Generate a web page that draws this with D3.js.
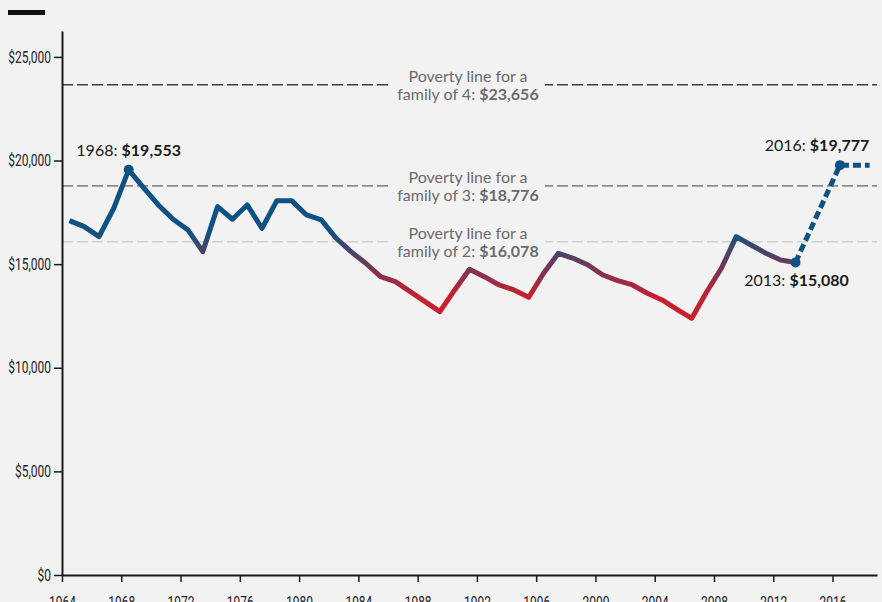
<!DOCTYPE html>
<html>
<head>
<meta charset="utf-8">
<script src="https://cdn.jsdelivr.net/npm/d3@7"></script>
<style>
  body { margin: 0; background: #f2f2f2; }
  svg { display: block; }
</style>
</head>
<body>
<svg></svg>
<script>
let width = 882
let height = 602

// real annual minimum wage earnings (2016 dollars)
let years = d3.range(1964, 2014)
let wages = [17100, 16810, 16330, 17710, 19553, 18690, 17856, 17166, 16650, 15600,
  17775, 17166, 17856, 16730, 18064, 18064, 17373, 17133, 16250, 15603,
  15043, 14396, 14155, 13673, 13190, 12707, 13754, 14752, 14396, 13995,
  13754, 13400, 14560, 15525, 15284, 14960, 14478, 14204, 13995, 13593,
  13271, 12822, 12388, 13657, 14800, 16327, 15926, 15525, 15203, 15080]

let projYears = [2013, 2016, 2018]
let projWages = [15080, 19777, 19777]

let markYears = [1968, 2013, 2016]
let markWages = [19553, 15080, 19777]

let povertyFamily = ['family of 4', 'family of 3', 'family of 2']
let povertyValues = [23656, 18776, 16078]

let yTicks = [0, 5000, 10000, 15000, 20000, 25000]
let xTicks = d3.range(1964, 2017, 4)

let blue = '#0e5283'
let red = '#c8202f'
let povertyColors = ['#3f3f3f', '#8c8c8c', '#d0d0d0']

let x = d3.scaleLinear().domain([1964, 2019]).range([62, 877])
let y = d3.scaleLinear().domain([0, 26250]).range([575, 31])

let fmt = d3.format(',')
let squeeze = 0.75

let svg = d3.select('svg')
    .attr('width', width)
    .attr('height', height)
    .style('font-family', 'Lato, sans-serif')

svg.append('rect')
    .attr('width', width)
    .attr('height', height)
    .attr('fill', '#f2f2f2')

// little black bar top left
svg.append('rect')
    .attr('x', 8)
    .attr('y', 10)
    .attr('width', 37)
    .attr('height', 5)
    .attr('fill', '#111')

let grad = svg.append('defs')
  .append('linearGradient')
    .attr('id', 'wageGrad')
    .attr('gradientUnits', 'userSpaceOnUse')
    .attr('x1', 0).attr('x2', 0)
    .attr('y1', y(16600))
    .attr('y2', y(13400))

grad.append('stop').attr('offset', 0).attr('stop-color', blue)
grad.append('stop').attr('offset', 1).attr('stop-color', red)

// poverty lines
let pov = svg.selectAll('.pov')
  .data(povertyValues)
  .enter()
  .append('g')
    .classed('pov', true)

pov.append('line')
    .attr('x1', x(1964))
    .attr('x2', x(2019))
    .attr('y1', d => y(d))
    .attr('y2', d => y(d))
    .attr('stroke', (d, i) => povertyColors[i])
    .attr('stroke-width', 1.6)
    .attr('stroke-dasharray', '11,4')

pov.append('rect')
    .attr('x', 392)
    .attr('width', 153)
    .attr('y', d => y(d) - 17)
    .attr('height', 36)
    .attr('fill', '#f2f2f2')

let povText = pov.append('text')
    .attr('text-anchor', 'middle')
    .attr('fill', '#6b6b6b')
    .style('font-size', '16px')

povText.append('tspan')
    .attr('x', 468)
    .attr('y', d => y(d) - 3)
    .text('Poverty line for a')

povText.append('tspan')
    .attr('x', 468)
    .attr('y', d => y(d) + 15)
    .text((d, i) => povertyFamily[i] + ': ')
  .append('tspan')
    .style('font-weight', 'bold')
    .text(d => '$' + fmt(d))

// axes
let yAxis = svg.append('g')
    .attr('transform', `translate(${x(1964)},0)`)
    .call(d3.axisLeft(y).tickValues(yTicks).tickFormat(d => '$' + fmt(d)).tickSize(8).tickSizeOuter(0).tickPadding(3))

let xAxis = svg.append('g')
    .attr('transform', `translate(0,${y(0)})`)
    .call(d3.axisBottom(x).tickValues(xTicks).tickFormat(d => d).tickSize(7).tickSizeOuter(0))

svg.selectAll('.domain')
    .attr('stroke', '#1a1a1a')
    .attr('stroke-width', 2)

svg.selectAll('.tick line')
    .attr('stroke', '#1a1a1a')
    .attr('stroke-width', 1.5)

// narrow look for the tick labels
svg.selectAll('.tick text')
    .attr('fill', '#222')
    .style('font-family', 'Roboto, sans-serif')
    .style('font-size', '16px')

yAxis.selectAll('.tick text')
    .attr('x', -11 / squeeze)
    .attr('transform', `scale(${squeeze},1)`)

xAxis.selectAll('.tick text')
    .attr('y', 22)
    .attr('transform', `scale(${squeeze},1)`)

// wage line
let series = years.map((d, i) => ({ year: d, value: wages[i] }))
let proj = projYears.map((d, i) => ({ year: d, value: projWages[i] }))

let line = d3.line()
    .x(d => x(d.year + 0.5))
    .y(d => y(d.value))

svg.append('path')
    .datum(proj)
    .attr('d', line)
    .attr('fill', 'none')
    .attr('stroke', blue)
    .attr('stroke-width', 5)
    .attr('stroke-dasharray', '8,4')

svg.append('path')
    .datum(series)
    .attr('d', line)
    .attr('fill', 'none')
    .attr('stroke', 'url(#wageGrad)')
    .attr('stroke-width', 5)
    .attr('stroke-linejoin', 'round')

// highlighted points
let marks = markYears.map((d, i) => ({ year: d, value: markWages[i] }))
let labelOffset = [[0, -14], [1, 24], [-23, -14]]

svg.selectAll('.mark')
  .data(marks)
  .enter()
  .append('circle')
    .classed('mark', true)
    .attr('cx', d => x(d.year + 0.5))
    .attr('cy', d => y(d.value))
    .attr('r', 5)
    .attr('fill', blue)

let markText = svg.selectAll('.markLabel')
  .data(marks)
  .enter()
  .append('text')
    .classed('markLabel', true)
    .attr('text-anchor', 'middle')
    .attr('x', (d, i) => x(d.year + 0.5) + labelOffset[i][0])
    .attr('y', (d, i) => y(d.value) + labelOffset[i][1])
    .attr('fill', '#1a1a1a')
    .style('font-size', '16px')
    .text(d => d.year + ': ')

markText.append('tspan')
    .style('font-weight', 'bold')
    .text(d => '$' + fmt(d.value))
</script>
</body>
</html>
